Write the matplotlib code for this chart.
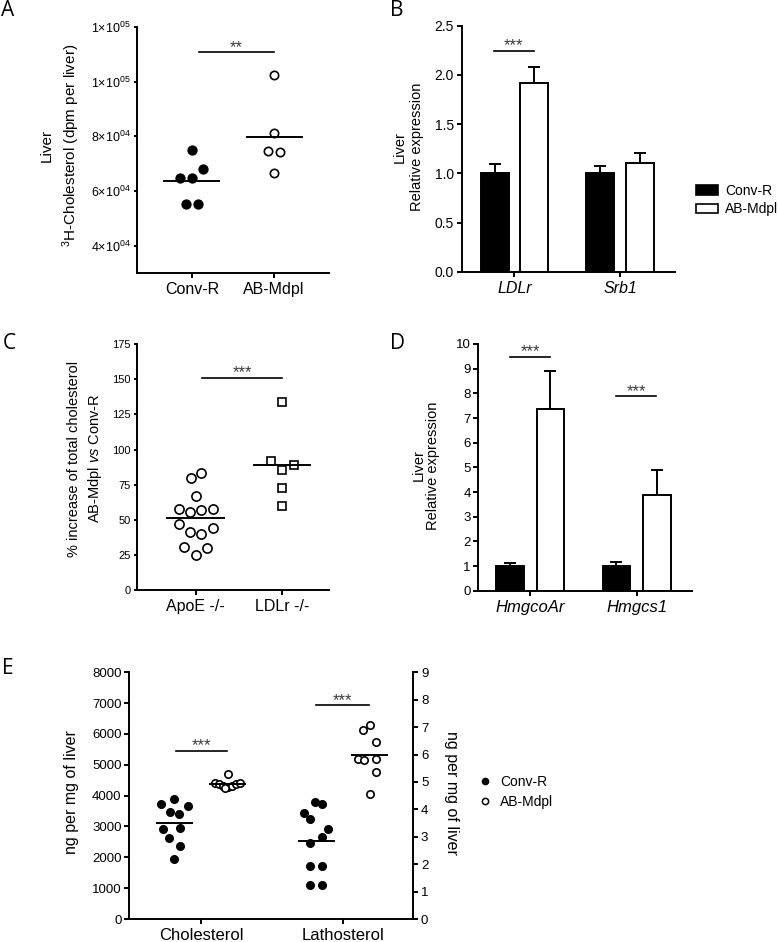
import numpy as np
import matplotlib
matplotlib.use("Agg")
import matplotlib.pyplot as plt
from matplotlib.patches import Patch
from matplotlib.lines import Line2D

plt.rcParams['font.family'] = ['Liberation Sans', 'DejaVu Sans']
plt.rcParams['mathtext.fontset'] = 'custom'
plt.rcParams['mathtext.rm'] = 'Liberation Sans'
plt.rcParams['mathtext.it'] = 'Liberation Sans:italic'

# ---- data ----
# A: 3H-cholesterol in liver
a_groups = ['Conv-R', 'AB-Mdpl']
a_conv = [75000, 68200, 64600, 64600, 55300, 55300]
a_conv_dx = [0, 0.14, -0.14, 0, -0.07, 0.07]
a_ab = [102300, 81350, 74600, 74250, 66700]
a_ab_dx = [0, 0, -0.07, 0.073, 0]
a_ticks = [40000, 60000, 80000, 100000, 120000]
a_tick_mant = ['4', '6', '8', '1', '1']
a_tick_exp = ['04', '04', '04', '05', '05']

# B: LDLr / Srb1 expression
b_genes = ['LDLr', 'Srb1']
b_conv = [1.0, 1.0]
b_conv_err = [0.095, 0.077]
b_ab = [1.92, 1.10]
b_ab_err = [0.16, 0.11]

# C: % increase of total cholesterol
c_groups = ['ApoE -/-', 'LDLr -/-']
c_apoe = [80.0, 83.0, 67.2, 57.7, 55.6, 57.0, 57.7, 47.0, 41.1, 39.6, 43.9, 30.6, 29.7, 24.7]
c_apoe_dx = [-0.062, 0.062, 0, -0.2, -0.066, 0.062, 0.194, -0.2, -0.066, 0.062, 0.194, -0.136, 0.128, 0]
c_ldlr = [133.7, 91.9, 85.7, 88.8, 72.9, 59.8]
c_ldlr_dx = [0, -0.13, 0, 0.136, 0, 0]

# D: HmgcoAr / Hmgcs1 expression
d_genes = ['HmgcoAr', 'Hmgcs1']
d_conv = [1.0, 1.0]
d_conv_err = [0.11, 0.15]
d_ab = [7.36, 3.88]
d_ab_err = [1.53, 1.01]

# E: sterols (cholesterol on left axis, lathosterol on right axis)
e_groups = ['Cholesterol', 'Lathosterol']
e_chol_conv = [3892, 3719, 3654, 3459, 3416, 2919, 2962, 2638, 2378, 1957]
e_chol_conv_dx = [0, -0.093, 0.093, -0.032, 0.032, -0.079, 0.039, -0.039, 0.041, 0]
e_chol_ab = [4700, 4421, 4379, 4314, 4291, 4314, 4379, 4421, 4238]
e_chol_ab_dx = [0, -0.087, -0.057, -0.029, 0, 0.029, 0.056, 0.087, -0.017]
e_lath_conv = [4.28, 4.19, 3.85, 3.63, 3.27, 2.99, 2.77, 1.94, 1.92, 1.23, 1.23]
e_lath_conv_dx = [-0.007, 0.04, -0.087, -0.042, 0.08, 0.038, -0.042, -0.042, 0.038, -0.042, 0.038]
e_lath_ab = [7.08, 6.88, 6.46, 5.83, 5.80, 5.85, 5.38, 4.56]
e_lath_ab_dx = [0, -0.046, 0.042, -0.084, -0.037, 0.042, 0.042, 0]

LW = 1.4


def style(ax, tick_size, cat_size, italic=False):
    ax.spines['top'].set_visible(False)
    ax.spines['right'].set_visible(False)
    for s in ('left', 'bottom'):
        ax.spines[s].set_linewidth(LW)
    ax.tick_params(axis='y', direction='out', length=3.5, width=LW, labelsize=tick_size, pad=2)
    ax.tick_params(axis='x', direction='out', length=3.5, width=LW, labelsize=cat_size, pad=3)
    if italic:
        for t in ax.get_xticklabels():
            t.set_fontstyle('italic')


def dots(ax, x, vals, dx, marker, filled, ms, half=0.335):
    xs = x + np.array(dx)
    ax.plot(xs, vals, linestyle='none', marker=marker, ms=ms,
            mfc='black' if filled else 'white', mec='black', mew=1.2, zorder=3)
    m = np.mean(vals)
    ax.plot([x - half, x + half], [m, m], color='black', lw=LW, zorder=4)


def sig(ax, x1, x2, y, label, size=12):
    ax.plot([x1, x2], [y, y], color='black', lw=1.2)
    ax.annotate(label, ((x1 + x2) / 2, y), xytext=(0, -2), textcoords='offset points',
                ha='center', va='bottom', fontsize=size, color='#3a3a3a')


def bars(ax, conv, conv_err, ab, ab_err, off, w):
    x = np.arange(len(conv))
    ax.errorbar(x - off, conv, yerr=[np.zeros(len(conv)), conv_err], fmt='none',
                ecolor='black', elinewidth=LW, capsize=4.5, capthick=LW, zorder=1)
    ax.errorbar(x + off, ab, yerr=[np.zeros(len(ab)), ab_err], fmt='none',
                ecolor='black', elinewidth=LW, capsize=4.5, capthick=LW, zorder=1)
    ax.bar(x - off, conv, w, color='black', edgecolor='black', lw=LW, zorder=2)
    ax.bar(x + off, ab, w, color='white', edgecolor='black', lw=LW, zorder=2)


W, H = 778, 942
fig = plt.figure(figsize=(W / 100, H / 100), dpi=100)


def axes_px(left, top, right, bottom):
    return fig.add_axes([left / W, 1 - bottom / H, (right - left) / W, (bottom - top) / H])


# ---- A ----
ax = axes_px(137, 27, 329, 273)
dots(ax, 0, a_conv, a_conv_dx, 'o', True, 6.2)
dots(ax, 1, a_ab, a_ab_dx, 'o', False, 6.0)
ax.set_xlim(-0.67, 1.67)
ax.set_ylim(30000, 120000)
ax.set_yticks(a_ticks)
ax.set_yticklabels([r'$\mathregular{%s{\times}10^{%s}}$' % (m, e) for m, e in zip(a_tick_mant, a_tick_exp)])
ax.set_xticks([0, 1])
ax.set_xticklabels(a_groups)
style(ax, 9, 11.5)
ax.tick_params(axis='y', length=2.5)
sig(ax, 0.085, 1.0, 110700, '**')
ax.set_ylabel('Liver\n$\\mathregular{^{3}}$H-Cholesterol (dpm per liver)', fontsize=11, va='center',
              linespacing=1.45)
ax.yaxis.set_label_coords(-0.395, 0.52)

# ---- B ----
ax = axes_px(461.7, 25.7, 675, 271.7)
bars(ax, b_conv, b_conv_err, b_ab, b_ab_err, 0.187, 0.265)
ax.set_xlim(-0.5, 1.52)
ax.set_ylim(0, 2.5)
ax.set_yticks(np.arange(0, 2.51, 0.5))
ax.set_yticklabels(['%.1f' % v for v in np.arange(0, 2.51, 0.5)])
ax.set_xticks([0, 1])
ax.set_xticklabels(b_genes)
style(ax, 10, 11.5, italic=True)
sig(ax, -0.19, 0.18, 2.247, '***')
ax.set_ylabel('Liver\nRelative expression', fontsize=10.5, va='center', linespacing=1.25)
ax.yaxis.set_label_coords(-0.25, 0.507)
fig.legend(handles=[Patch(facecolor='black', edgecolor='black', lw=1.2, label='Conv-R'),
                    Patch(facecolor='white', edgecolor='black', lw=1.2, label='AB-Mdpl')],
           loc='center left', bbox_to_anchor=(696 / W, 1 - 200 / H), frameon=False,
           fontsize=10, handlelength=1.6, handleheight=0.7, handletextpad=0.5,
           labelspacing=0.35, borderpad=0, borderaxespad=0)

# ---- C ----
ax = axes_px(137.3, 344.3, 329.3, 590)
dots(ax, 0, c_apoe, c_apoe_dx, 'o', False, 6.6, half=0.33)
dots(ax, 1, c_ldlr, c_ldlr_dx, 's', False, 5.4, half=0.33)
ax.set_xlim(-0.68, 1.55)
ax.set_ylim(0, 175)
ax.set_yticks(np.arange(0, 176, 25))
ax.set_xticks([0, 1])
ax.set_xticklabels(c_groups)
style(ax, 8, 11.5)
ax.tick_params(axis='y', length=2.5)
sig(ax, 0.075, 1.0, 151.2, '***')
ax.set_ylabel('% increase of total cholesterol\nAB-Mdpl $\\it{vs}$ Conv-R', fontsize=10.5,
              va='center', linespacing=1.35)
ax.yaxis.set_label_coords(-0.27, 0.535)

# ---- D ----
ax = axes_px(478.3, 344, 691.7, 590.7)
bars(ax, d_conv, d_conv_err, d_ab, d_ab_err, 0.19, 0.258)
ax.set_xlim(-0.485, 1.515)
ax.set_ylim(0, 10)
ax.set_yticks(np.arange(0, 11, 1))
ax.set_xticks([0, 1])
ax.set_xticklabels(d_genes)
style(ax, 9.5, 12, italic=True)
sig(ax, -0.19, 0.19, 9.49, '***')
sig(ax, 1 - 0.19, 1 + 0.18, 7.89, '***')
ax.set_ylabel('Liver\nRelative expression', fontsize=10.5, va='center', linespacing=1.05)
ax.yaxis.set_label_coords(-0.245, 0.508)

# ---- E ----
ax = axes_px(129.3, 672.3, 413.3, 919)
ax2 = ax.twinx()
off = 0.187
dots(ax, 0 - off, e_chol_conv, e_chol_conv_dx, 'o', True, 5.3, half=0.123)
dots(ax, 0 + off, e_chol_ab, e_chol_ab_dx, 'o', False, 5.3, half=0.123)
dots(ax2, 1 - off, e_lath_conv, e_lath_conv_dx, 'o', True, 5.3, half=0.123)
dots(ax2, 1 + off, e_lath_ab, e_lath_ab_dx, 'o', False, 5.3, half=0.123)
ax.set_xlim(-0.505, 1.495)
ax.set_ylim(0, 8000)
ax.set_yticks(np.arange(0, 8001, 1000))
ax2.set_ylim(0, 9)
ax2.set_yticks(np.arange(0, 10, 1))
ax.set_xticks([0, 1])
ax.set_xticklabels(e_groups)
style(ax, 9.5, 12)
ax2.spines['top'].set_visible(False)
ax2.spines['left'].set_visible(False)
ax2.spines['bottom'].set_visible(False)
ax2.spines['right'].set_linewidth(LW)
ax2.tick_params(axis='y', direction='out', length=3.5, width=LW, labelsize=9.5, pad=2)
sig(ax, -0.176, 0.185, 5459, '***')
sig(ax2, -0.19 + 1, 0.183 + 1, 7.8, '***')
ax.set_ylabel('ng per mg of liver', fontsize=11.5, va='center')
ax.yaxis.set_label_coords(-0.203, 0.513)
ax2.set_ylabel('ng per mg of liver', fontsize=11.5, rotation=270, va='center')
ax2.yaxis.set_label_coords(1.135, 0.513)
fig.legend(handles=[Line2D([], [], ls='none', marker='o', ms=4.5, mfc='black', mec='black', label='Conv-R'),
                    Line2D([], [], ls='none', marker='o', ms=4.5, mfc='white', mec='black', mew=1.1,
                           label='AB-Mdpl')],
           loc='center left', bbox_to_anchor=(478 / W, 1 - 792 / H), frameon=False,
           fontsize=10, handlelength=1.0, handletextpad=0.6, labelspacing=0.45,
           borderpad=0, borderaxespad=0)

# panel letters
for letter, (px, py) in zip('ABCDE', [(8, 11), (397, 11), (9, 344), (398, 344), (8, 668)]):
    fig.text(px / W, 1 - py / H, letter, fontsize=15, family='Open Sans', ha='center', va='center')

fig.savefig('out.png', dpi=100)
